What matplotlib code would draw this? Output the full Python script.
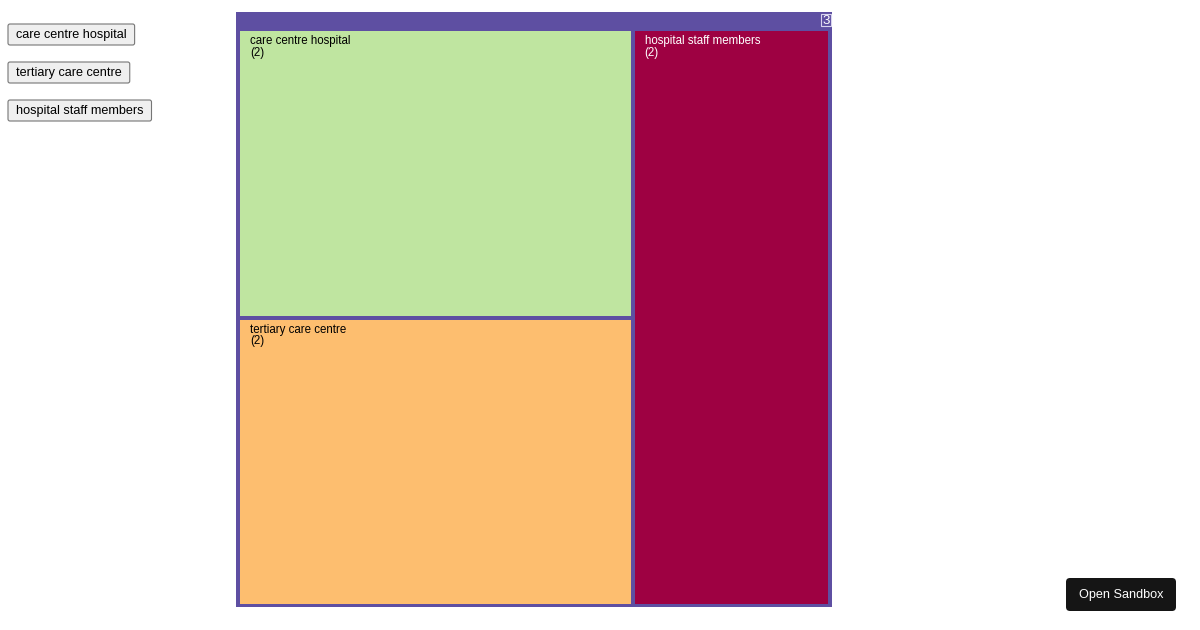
import matplotlib
matplotlib.use("Agg")
import matplotlib.pyplot as plt
from matplotlib.patches import Rectangle, FancyBboxPatch

plt.rcParams['font.family'] = ['Liberation Sans', 'DejaVu Sans']

# data
names = ["care centre hospital", "tertiary care centre", "hospital staff members"]
values = [2, 2, 2]
colors = ["#bfe5a0", "#fdbe6f", "#9e0142"]
text_colors = ["black", "black", "white"]
root_label = "3"
root_color = "#5e4fa2"
buttons = ["care centre hospital", "tertiary care centre", "hospital staff members"]

W, H = 1200, 630
fig = plt.figure(figsize=(W / 100, H / 100), dpi=100)
ax = fig.add_axes([0, 0, 1, 1])
ax.set_xlim(0, W)
ax.set_ylim(H, 0)
ax.axis("off")


def worst(row, side, scale):
    areas = [v * scale for v in row]
    s = sum(areas)
    return max(max(side * side * a / (s * s), s * s / (side * side * a)) for a in areas)


def squarify(vals, x0, y0, x1, y1):
    # simple squarified layout, returns list of (x0, y0, x1, y1)
    out = []
    vals = list(vals)
    while vals:
        w, h = x1 - x0, y1 - y0
        scale = w * h / sum(vals)
        side = min(w, h)
        row = [vals[0]]
        i = 1
        while i < len(vals) and worst(row + [vals[i]], side, scale) <= worst(row, side, scale):
            row.append(vals[i])
            i += 1
        rs = sum(row) * scale
        if w >= h:
            cw = rs / h
            y = y0
            for v in row:
                ch = v * scale / cw
                out.append((x0, y, x0 + cw, y + ch))
                y += ch
            x0 += cw
        else:
            rh = rs / w
            x = x0
            for v in row:
                rw = v * scale / rh
                out.append((x, y0, x + rw, y0 + rh))
                x += rw
            y0 += rh
        vals = vals[i:]
    return out


# root box
ox0, oy0, ox1, oy1 = 236, 12, 832, 607
ax.add_patch(Rectangle((ox0, oy0), ox1 - ox0, oy1 - oy0, facecolor=root_color, edgecolor="none", zorder=0.5))
ax.add_patch(Rectangle((821, 13.5), 10, 12.5, facecolor="none", edgecolor="#d8d4ee", lw=0.8))
ax.text(826.5, 20.5, root_label, color="white", fontsize=9.6, ha="center", va="center")

pad = 2
rects = squarify(values, ox0 + 4 - pad, oy0 + 19 - pad, ox1 - 4 + pad, oy1 - 3 + pad)
for (x0, y0, x1, y1), n, v, c, tc in zip(rects, names, values, colors, text_colors):
    x0, y0, x1, y1 = x0 + pad, y0 + pad, x1 - pad, y1 - pad
    ax.add_patch(Rectangle((x0, y0), x1 - x0, y1 - y0, facecolor=c, edgecolor="none"))
    ax.text(x0 + 10, y0 + 4, n + "\n(%d)" % v, color=tc, fontsize=8.3,
            ha="left", va="top", linespacing=0.95, zorder=3)

# buttons on the left
by = 24
for b in buttons:
    t = ax.text(16, by + 11, b, fontsize=9.1, ha="left", va="center", color="black")
    fig.canvas.draw()
    bb = t.get_window_extent().transformed(ax.transData.inverted())
    bw = abs(bb.x1 - bb.x0) + 16
    ax.add_patch(FancyBboxPatch((8, by), bw, 21, boxstyle="round,pad=0,rounding_size=2",
                                facecolor="#efefef", edgecolor="#767676", lw=0.8, zorder=0))
    by += 38

# sandbox button
ax.add_patch(FancyBboxPatch((1066, 578), 110, 33, boxstyle="round,pad=0,rounding_size=4",
                            facecolor="#151515", edgecolor="none"))
ax.text(1121, 595, "Open Sandbox", color="white", fontsize=9.1, ha="center", va="center")

fig.savefig("out.png", dpi=100)
